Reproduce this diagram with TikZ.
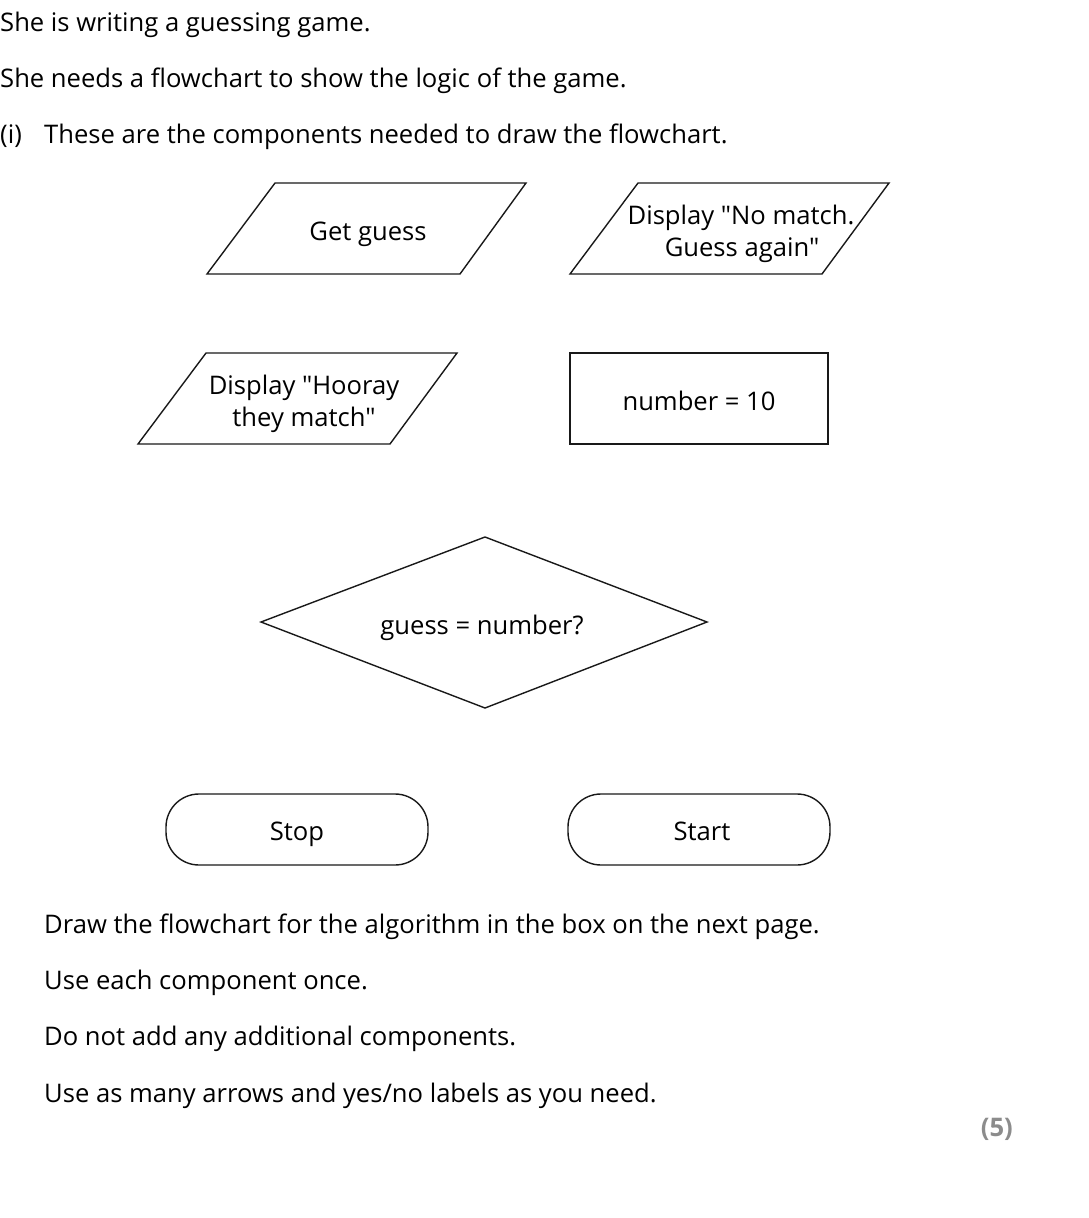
\documentclass[tikz,border=0pt]{standalone}
\usepackage{fontspec}
\setmainfont{Open Sans}[Ligatures=TeXOff]
\begin{document}
\begin{tikzpicture}[x=1pt,y=-1pt,
  shapeline/.style={draw=black!90,line width=1.4pt,line join=miter},
  body/.style={inner sep=0pt,anchor=base west,font=\fontsize{25.6}{30}\selectfont},
  lbl/.style={inner sep=0pt,anchor=base,font=\fontsize{25.6}{30}\selectfont}]
\useasboundingbox (0,0) rectangle (1088,1218);
% introductory text
\node[body] (t1) at (0,31) {She is writing a guessing game.};
\node[body] (t2) at (0,87) {She needs a flowchart to show the logic of the game.};
\node[body] (t3a) at (0,143) {(i)};
\node[body] (t3b) at (44,143) {These are the components needed to draw the flowchart.};
% Get guess
\draw[shapeline] (275,183) -- (526,183) -- (460,274) -- (207,274) -- cycle;
\node[lbl] (getguess) at (368,240) {Get guess};
% No match
\draw[shapeline] (638,183) -- (889,183) -- (822,274) -- (570,274) -- cycle;
\node[lbl] (nomatch1) at (741,224) {Display "No match.};
\node[lbl] (nomatch2) at (742,256) {Guess again"};
% Hooray
\draw[shapeline] (206,353) -- (457,353) -- (390,444) -- (138,444) -- cycle;
\node[lbl] (hooray1) at (304,394) {Display "Hooray};
\node[lbl] (hooray2) at (304,426) {they match"};
% number = 10
\draw[shapeline] (570,353) rectangle (828,444);
\node[lbl] (numb) at (699,410) {number = 10};
% decision
\draw[shapeline] (261,622) -- (485,537) -- (707,622) -- (485,708) -- cycle;
\node[lbl] (dec) at (482,634) {guess = number?};
% terminators
\draw[shapeline,rounded corners=33pt] (166,794) rectangle (428,865);
\node[lbl] (stop) at (297,840) {Stop};
\draw[shapeline,rounded corners=33pt] (568,794) rectangle (830,865);
\node[lbl] (start) at (702,840) {Start};
% instructions
\node[body] (i1) at (44,933) {Draw the flowchart for the algorithm in the box on the next page.};
\node[body] (i2) at (44,989) {Use each component once.};
\node[body] (i3) at (44,1045) {Do not add any additional components.};
\node[body] (i4) at (44,1102) {Use as many arrows and yes/no labels as you need.};
\node[inner sep=0pt,anchor=base east,font=\fontsize{25.6}{30}\selectfont\bfseries,text=black!45] (marks) at (1013,1136) {(5)};
\end{tikzpicture}
\end{document}
